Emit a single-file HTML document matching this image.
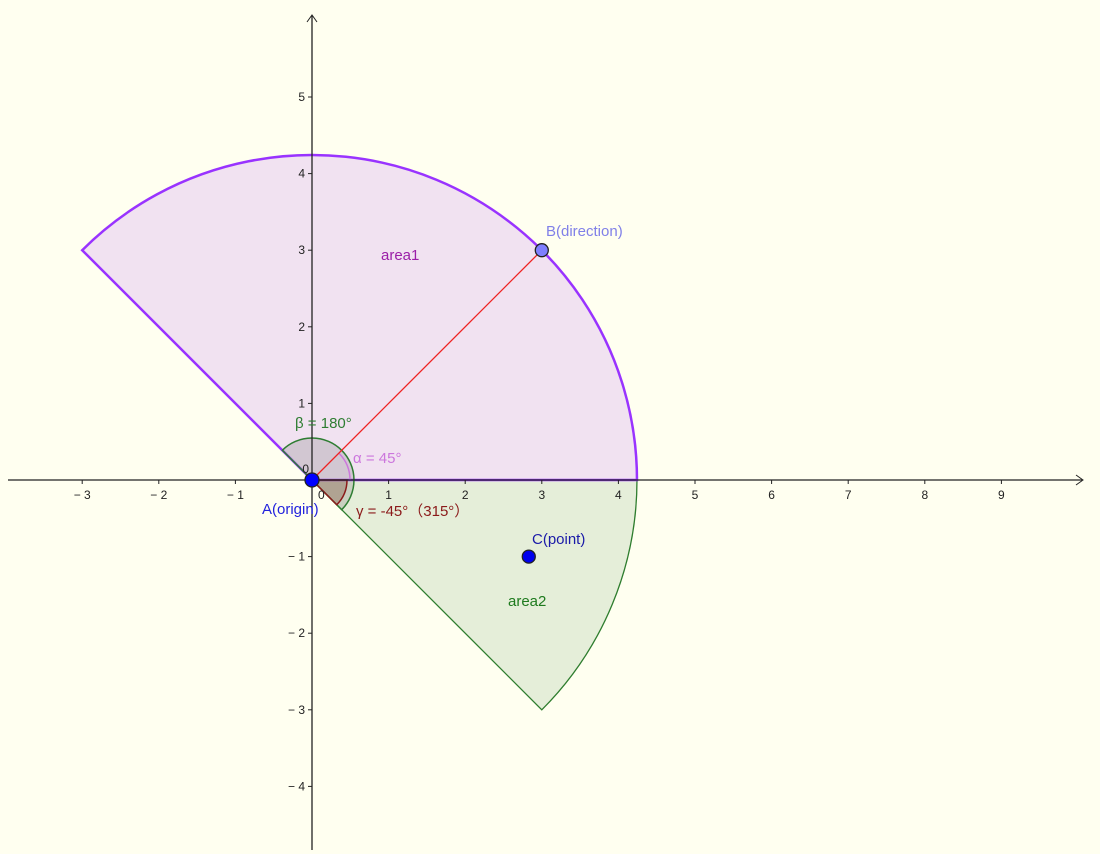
<!DOCTYPE html>
<html><head><meta charset="utf-8"><style>
body{margin:0;background:#fffff0;}
svg{display:block;font-family:"Liberation Sans","Noto Sans CJK SC",sans-serif;}
</style></head><body>
<svg id="c" width="1100" height="854"></svg>
<script>
const xTicks=[-3,-2,-1,1,2,3,4,5,6,7,8,9];
const yTicks=[-4,-3,-2,-1,1,2,3,4,5];
const pointA=[0,0];
const pointB=[3,3];
const pointC=[2.83,-1];
const area1Angles=[0,135];
const area2Angles=[-45,0];
const radius=Math.sqrt(18);
const O={x:312,y:480},U=76.6;
const sx=v=>O.x+v*U, sy=v=>O.y-v*U;
const svg=document.getElementById('c');
const NS='http://www.w3.org/2000/svg';
function mk(tag,attrs,txt){const e=document.createElementNS(NS,tag);for(const k in attrs)e.setAttribute(k,attrs[k]);if(txt!==undefined)e.textContent=txt;svg.appendChild(e);return e;}
function sector(a0,a1,rPx){
  const p=(a)=>[O.x+rPx*Math.cos(a*Math.PI/180),O.y-rPx*Math.sin(a*Math.PI/180)];
  const s=p(a0),e=p(a1);const large=(a1-a0)>180?1:0;
  return `M${O.x},${O.y} L${s[0]},${s[1]} A${rPx},${rPx} 0 ${large} 0 ${e[0]},${e[1]} Z`;
}
const R=radius*U;
let e;
e=mk('path',{d:sector(area2Angles[0],area2Angles[1],R),fill:'#e5eed9',stroke:'#2e7d2e','stroke-width':1.3});

e=mk('path',{d:sector(area1Angles[0],area1Angles[1],R),fill:'#f1e2f1',stroke:'#9933ff','stroke-width':2.5});

e=mk('path',{d:sector(-45,135,42),fill:'rgba(120,120,120,0.25)',stroke:'#2e7d32','stroke-width':1.5});

e=mk('path',{d:sector(-45,0,35),fill:'rgba(120,60,40,0.3)',stroke:'#8b1a1a','stroke-width':1.5});

e=mk('path',{d:`M${O.x+38},${O.y} A38,38 0 0 0 ${O.x+38*Math.cos(Math.PI/4)},${O.y-38*Math.sin(Math.PI/4)}`,fill:'none',stroke:'#cc77dd','stroke-width':1.5});

e=mk('line',{x1:8,y1:O.y,x2:1082,y2:O.y,stroke:'#222','stroke-width':1.3});

e=mk('path',{d:`M1076,${O.y-5} L1083,${O.y} L1076,${O.y+5}`,fill:'none',stroke:'#222'});
e=mk('line',{x1:O.x,y1:850,x2:O.x,y2:16,stroke:'#222','stroke-width':1.3});

e=mk('path',{d:`M${O.x-5},22 L${O.x},15 L${O.x+5},22`,fill:'none',stroke:'#222'});
xTicks.forEach(v=>{
  const t=mk('line',{x1:sx(v),y1:O.y,x2:sx(v),y2:O.y+4,stroke:'#222'});
  
  const l=mk('text',{x:sx(v),y:O.y+19,'font-size':12,'text-anchor':'middle',fill:'#222'},v<0?'− '+(-v):String(v));
  
});
yTicks.forEach(v=>{
  const t=mk('line',{x1:O.x-4,y1:sy(v),x2:O.x,y2:sy(v),stroke:'#222'});
  
  const l=mk('text',{x:O.x-7,y:sy(v)+4,'font-size':12,'text-anchor':'end',fill:'#222'},v<0?'− '+(-v):String(v));
  
});
mk('text',{x:O.x-3,y:O.y-7,'font-size':12,'text-anchor':'end',fill:'#222'},'0');
mk('text',{x:O.x+6,y:O.y+19,'font-size':12,fill:'#222'},'0');
e=mk('line',{x1:sx(pointA[0]),y1:sy(pointA[1]),x2:sx(pointB[0]),y2:sy(pointB[1]),stroke:'#ee2222','stroke-width':1.3});

const labels=[[381,260,'area1','#9b1fa8','area1-label'],[508,606,'area2','#1e7a1e','area2-label'],
[295,428,'β = 180°','#2e7d32','beta-label'],[353,463,'α = 45°','#cc77dd','alpha-label'],
[356,516,'γ = -45°（315°）','#8b1a1a','gamma-label'],[546,236,'B(direction)','#8080e8','point-b-label'],
[532,544,'C(point)','#1a1aa8','point-c-label'],[262,514,'A(origin)','#2222dd','point-a-label']];
labels.forEach(a=>{const t=mk('text',{x:a[0],y:a[1],'font-size':15,fill:a[3]},a[2]);});
e=mk('circle',{cx:sx(pointB[0]),cy:sy(pointB[1]),r:6.5,fill:'#7f7fff',stroke:'#222','stroke-width':1.3});

e=mk('circle',{cx:sx(pointC[0]),cy:sy(pointC[1]),r:6.5,fill:'#0000ee',stroke:'#222','stroke-width':1.3});

e=mk('circle',{cx:sx(pointA[0]),cy:sy(pointA[1]),r:7,fill:'#0000ff',stroke:'#222','stroke-width':1.3});

</script>
</body></html>
